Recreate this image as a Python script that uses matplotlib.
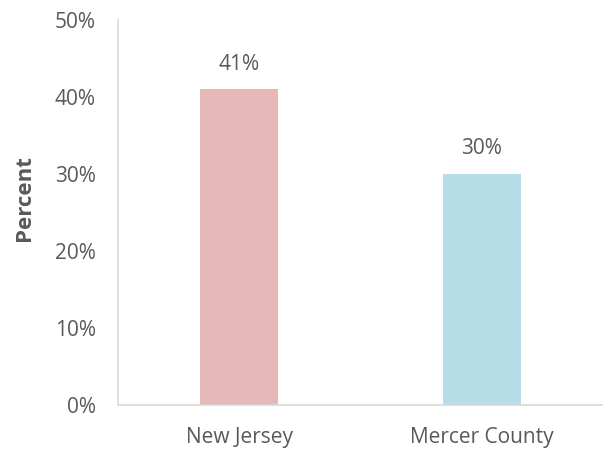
import matplotlib
matplotlib.use('Agg')
import matplotlib.pyplot as plt
from matplotlib.ticker import FuncFormatter

# Data
categories = ['New Jersey', 'Mercer County']
values = [41, 30]
colors = ['#E6B8B7', '#B7DEE8']

plt.rcParams['font.family'] = ['Open Sans', 'DejaVu Sans']
text_color = '#595959'
fs = 15

fig = plt.figure(figsize=(6.03, 4.5), dpi=100)
# axes placed in pixel terms: left 118, right 603, top 20, bottom 405
ax = fig.add_axes([118 / 603, (450 - 405) / 450, (603 - 118) / 603, (405 - 20) / 450])

x = range(len(categories))
ax.bar(x, values, width=0.32, color=colors, zorder=2)

# Data labels above bars
for xi, v in zip(x, values):
    ax.annotate('{}%'.format(v), (xi, v), xytext=(0, 18), textcoords='offset points',
                ha='center', va='center', fontsize=fs, color=text_color)

ax.set_xlim(-0.5, 1.5)
ax.set_ylim(0, 50)
ax.set_yticks(range(0, 51, 10))
ax.yaxis.set_major_formatter(FuncFormatter(lambda v, p: '{:.0f}%'.format(v)))
ax.set_xticks(list(x))
ax.set_xticklabels(categories)

ax.tick_params(axis='both', length=0, labelsize=fs, colors=text_color)
ax.tick_params(axis='y', pad=16)
ax.tick_params(axis='x', pad=16)

for side in ['top', 'right']:
    ax.spines[side].set_visible(False)
for side in ['left', 'bottom']:
    ax.spines[side].set_color('#D9D9D9')
    ax.spines[side].set_linewidth(1.2)

ax.set_ylabel('Percent', fontsize=16, fontweight='bold', color=text_color)
ax.yaxis.set_label_coords(-0.171, 0.538)

plt.savefig('out.png', dpi=100)
